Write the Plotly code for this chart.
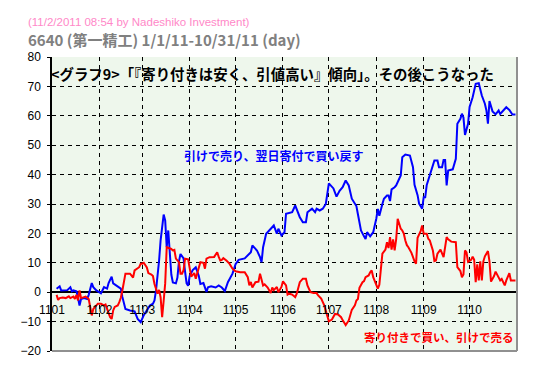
import plotly.graph_objects as go

# ---- data ----
month_ticks = ["2011-01-01", "2011-02-01", "2011-03-01", "2011-04-01", "2011-05-01",
               "2011-06-01", "2011-07-01", "2011-08-01", "2011-09-01", "2011-10-01"]
month_labels = ["1101", "1102", "1103", "1104", "1105", "1106", "1107", "1108", "1109", "1110"]
y_ticks = [-20, -10, 0, 10, 20, 30, 40, 50, 60, 70, 80]

blue_md = ["01-04","01-06","01-07","01-09","01-11","01-13","01-14","01-15","01-17","01-18",
           "01-19","01-20","01-22","01-24","01-25","01-27","01-28","01-30","02-02","02-04",
           "02-06","02-07","02-09","02-10","02-13","02-15","02-16","02-18","02-21","02-24",
           "02-26","02-28","03-02","03-04","03-06","03-08","03-09","03-10","03-11","03-12",
           "03-13","03-14","03-15","03-16","03-17","03-18","03-19","03-20","03-21","03-23",
           "03-24","03-25","03-26","03-28","03-29","03-30","03-31","04-01","04-03","04-05",
           "04-07","04-08","04-10","04-12","04-13","04-15","04-18","04-20","04-22","04-24",
           "04-26","04-29","05-01","05-03","05-07","05-11","05-12","05-15","05-17","05-18",
           "05-19","05-21","05-23","05-26","05-28","05-29","05-31","06-02","06-03","06-07",
           "06-09","06-10","06-12","06-14","06-16","06-17","06-20","06-22","06-23","06-25",
           "06-27","06-29","07-01","07-04","07-06","07-08","07-10","07-12","07-14","07-16",
           "07-19","07-20","07-22","07-24","07-25","07-26","07-28","07-30","07-31","08-01",
           "08-02","08-03","08-05","08-06","08-08","08-09","08-10","08-11","08-13","08-14",
           "08-16","08-17","08-18","08-20","08-23","08-24","08-25","08-26","08-28","08-29",
           "08-31","09-01","09-02","09-03","09-05","09-07","09-08","09-10","09-11","09-13",
           "09-14","09-15","09-16","09-17","09-20","09-22","09-23","09-25","09-26","09-27",
           "09-28","09-30","10-01","10-03","10-05","10-07","10-09","10-11","10-12","10-13",
           "10-14","10-16","10-18","10-20","10-21","10-25","10-27","10-29","10-31"]
blue_values = [1.2, 2.0, 0.6, 0.7, 0.7, 1.7, 0.3, 0.6, 0.3, -1.9,
               -4.5, -2.3, -2.0, -2.3, -0.9, 3.1, 1.7, 0.6, -0.4, 1.7,
               1.2, 3.1, 5.3, 3.0, 1.9, 1.2, -1.6, -5.7, -6.2, -6.5,
               -9.1, -10.2, -7.8, -6.0, -4.5, -3.9, -2.8, 0.6, 5.0, 10.7,
               17.6, 22.0, 26.4, 24.4, 15.3, 21.0, 13.0, 6.0, 3.3, 3.0,
               5.0, 10.5, 13.0, 11.5, 7.0, 3.0, 2.2, 5.5, 7.5, 8.5,
               5.5, 2.8, 3.1, 0.1, 1.7, 2.0, 1.6, 2.3, 1.6, 0.4,
               3.4, 6.3, 9.5, 11.0, 11.5, 13.6, 15.9, 14.2, 11.9, 10.2,
               15.3, 19.9, 21.0, 22.7, 19.9, 21.6, 19.3, 20.4, 26.7, 27.2,
               29.5, 27.9, 25.5, 23.8, 23.8, 27.2, 28.4, 27.2, 28.4, 27.8,
               28.4, 30.0, 37.0, 35.3, 32.5, 34.5, 35.7, 38.0, 36.3, 31.8,
               29.3, 26.5, 21.0, 19.0, 18.1, 20.4, 19.0, 20.4, 22.5, 25.0,
               28.3, 26.0, 30.0, 31.8, 32.9, 32.9, 31.0, 35.0, 35.7, 36.3,
               38.6, 39.7, 45.9, 46.8, 46.5, 44.8, 42.5, 36.5, 33.0, 30.1,
               28.4, 32.3, 32.3, 36.5, 39.7, 42.5, 44.8, 44.8, 42.5, 42.5,
               45.0, 45.0, 36.3, 41.4, 41.8, 45.4, 57.3, 59.0, 60.7, 59.4,
               53.5, 57.3, 63.0, 66.3, 70.9, 71.1, 66.9, 64.1, 61.8, 57.3,
               65.0, 61.5, 60.5, 61.8, 60.6, 62.9, 62.0, 60.4, 60.4]

red_md = ["01-04","01-05","01-06","01-08","01-10","01-12","01-13","01-15","01-16","01-17",
          "01-18","01-19","01-20","01-22","01-23","01-25","01-26","01-27","01-28","01-30",
          "01-31","02-02","02-04","02-05","02-07","02-08","02-09","02-10","02-11","02-13",
          "02-14","02-15","02-16","02-17","02-18","02-21","02-23","02-24","02-27","02-28",
          "03-01","03-02","03-04","03-05","03-06","03-07","03-08","03-09","03-11","03-12",
          "03-13","03-14","03-15","03-16","03-17","03-18","03-19","03-20","03-21","03-22",
          "03-23","03-25","03-26","03-27","03-28","03-29","03-31","04-01","04-02","04-04",
          "04-05","04-06","04-08","04-10","04-11","04-12","04-14","04-17","04-19","04-20",
          "04-21","04-22","04-23","04-25","04-27","04-29","05-01","05-04","05-07","05-09",
          "05-10","05-11","05-12","05-14","05-16","05-17","05-18","05-19","05-20","05-22",
          "05-24","05-25","05-26","05-28","05-29","05-31","06-01","06-03","06-04","06-05",
          "06-07","06-09","06-10","06-12","06-14","06-16","06-17","06-19","06-21","06-23",
          "06-24","06-26","06-28","06-30","07-01","07-03","07-05","07-07","07-09","07-10",
          "07-12","07-14","07-16","07-18","07-19","07-20","07-21","07-23","07-24","07-25",
          "07-27","07-28","07-29","07-30","08-01","08-02","08-03","08-04","08-05","08-07",
          "08-08","08-09","08-10","08-11","08-12","08-13","08-14","08-15","08-16","08-17",
          "08-18","08-19","08-20","08-21","08-22","08-24","08-26","08-27","08-28","08-29",
          "08-30","08-31","09-01","09-03","09-04","09-05","09-06","09-07","09-08","09-09",
          "09-10","09-12","09-14","09-16","09-17","09-19","09-22","09-23","09-25","09-26",
          "09-27","09-28","09-29","09-30","10-02","10-03","10-04","10-05","10-06","10-07",
          "10-08","10-09","10-10","10-11","10-13","10-14","10-15","10-17","10-18","10-20",
          "10-21","10-22","10-24","10-25","10-27","10-28","10-31"]
red_values = [-0.9, -2.6, -2.0, -1.8, -2.0, -1.4, -2.0, -1.5, -2.3, -0.9,
              -2.8, 0.6, -2.0, -1.8, -1.5, -2.3, -5.7, -7.9, -5.7, -4.5,
              -3.9, -3.9, -4.5, -4.2, -7.4, -8.5, -9.1, -6.2, -5.0, -4.5,
              -3.4, -1.9, 0.6, 4.0, 6.3, 6.3, 5.0, 7.4, 8.5, 9.7,
              9.7, 10.0, 8.4, 6.5, 6.3, 6.0, 5.5, 2.8, -0.5, 0.8,
              -1.7, -8.5, -3.0, 3.0, 15.3, 15.1, 15.0, 14.7, 14.2, 14.4,
              11.4, 10.2, 6.3, 6.3, 7.5, 11.4, 11.2, 7.4, 5.3, 6.5,
              4.6, 6.5, 10.2, 10.0, 8.0, 11.4, 11.9, 12.0, 13.6, 12.0,
              10.8, 11.0, 11.6, 10.8, 9.7, 8.0, 7.1, 6.8, 6.8, 5.1,
              2.3, 3.5, 1.6, 3.4, 3.6, 6.3, 4.0, 2.3, 2.7, 1.6,
              -0.3, 1.6, 0.7, 1.8, 0.0, 1.8, 3.7, 2.3, -0.8, -0.5,
              -0.8, -1.7, -0.5, 3.4, 4.6, 4.6, 2.3, 0.0, -0.3, -0.3,
              -1.1, -2.2, -4.5, -8.0, -9.9, -9.3, -7.4, -7.6, -8.5, -9.5,
              -11.2, -9.6, -6.0, -4.5, -2.8, -2.3, 1.5, 3.4, 3.8, 5.1,
              5.7, 6.8, 7.4, 5.1, 2.8, 1.2, 2.5, 8.5, 13.1, 14.5,
              17.0, 15.0, 18.7, 14.5, 18.0, 14.2, 18.0, 25.0, 23.3, 21.6,
              21.0, 19.9, 17.6, 16.0, 15.3, 13.4, 10.5, 9.7, 18.5, 19.5,
              20.8, 22.7, 19.9, 19.9, 18.2, 17.6, 15.9, 14.2, 10.6, 10.8,
              13.1, 14.5, 11.9, 18.7, 18.0, 17.2, 17.0, 8.5, 7.2, 5.1,
              6.0, 14.2, 13.5, 10.3, 11.0, 12.1, 11.0, 3.4, 9.5, 4.0,
              10.5, 4.0, 10.5, 12.2, 14.0, 10.5, 3.6, 5.5, 7.0, 4.8,
              4.0, 4.5, 2.3, 4.0, 6.5, 4.0, 4.0]

blue_dates = ["2011-" + d for d in blue_md]
red_dates = ["2011-" + d for d in red_md]

blue_name = "引けで売り、翌日寄付で買い戻す"
red_name = "寄り付きで買い、引けで売る"
main_title = "<グラフ9>「『寄り付きは安く、引値高い』傾向」。その後こうなった"
sub_title = "6640 (第一精工) 1/1/11-10/31/11 (day)"
stamp = "(11/2/2011 08:54 by Nadeshiko Investment)"

fig = go.Figure()
fig.add_trace(go.Scatter(x=blue_dates, y=blue_values, mode="lines", name=blue_name,
                         line=dict(color="#0000ff", width=2)))
fig.add_trace(go.Scatter(x=red_dates, y=red_values, mode="lines", name=red_name,
                         line=dict(color="#ff0000", width=2)))

jp = "Noto Sans CJK JP"
# the page body adds an 8px offset, so the figure is 8px smaller than the window
fig.update_layout(
    width=538, height=370,
    margin=dict(l=42, r=29, t=49, b=27),
    paper_bgcolor="white",
    plot_bgcolor="#eef7ec",
    showlegend=False,
    font=dict(family="Liberation Sans", size=12, color="black"),
    xaxis=dict(
        type="date", range=["2011-01-01", "2011-11-01"],
        tickvals=month_ticks, ticktext=month_labels,
        showgrid=True, gridcolor="black", gridwidth=1, griddash="4px,4px",
        anchor="free", position=0.2, showline=False, ticks="",
        ticklabelstandoff=9, tickfont=dict(size=12, color="black", family="Liberation Sans"),
        zeroline=False,
    ),
    yaxis=dict(
        range=[-20, 80], tickvals=y_ticks,
        showgrid=True, gridcolor="black", gridwidth=1, griddash="4px,4px",
        zeroline=True, zerolinecolor="black", zerolinewidth=1.5,
        showline=True, linecolor="black", linewidth=1.5,
        ticks="outside", ticklen=3, tickcolor="black", ticklabelstandoff=4,
        tickfont=dict(size=12, color="black", family="Liberation Sans"),
    ),
    shapes=[
        dict(type="line", xref="paper", yref="paper", x0=1, x1=1, y0=0, y1=1,
             line=dict(color="#909090", width=2)),
        dict(type="line", xref="paper", yref="paper", x0=0, x1=1, y0=0, y1=0,
             line=dict(color="#909090", width=2)),
    ],
    annotations=[
        dict(text=stamp, xref="paper", yref="paper", x=-0.055, y=1.118,
             xanchor="left", yanchor="middle", showarrow=False,
             font=dict(family="Liberation Sans", size=11.5, color="#ff88c8")),
        dict(text="<b>" + sub_title + "</b>", xref="paper", yref="paper", x=-0.055, y=1.059,
             xanchor="left", yanchor="middle", showarrow=False,
             font=dict(family=jp, size=15, color="#808080")),
        dict(text="<b>" + main_title + "</b>", xref="paper", yref="y", x=-0.006, y=74.4,
             xanchor="left", yanchor="middle", showarrow=False,
             font=dict(family=jp, size=14.4, color="black")),
        dict(text="<b>" + blue_name + "</b>", xref="x", yref="y", x="2011-05-26", y=46.5,
             xanchor="center", yanchor="middle", showarrow=False,
             font=dict(family=jp, size=12, color="#0000ff")),
        dict(text="<b>" + red_name + "</b>", xref="paper", yref="y", x=0.998, y=-15.1,
             xanchor="right", yanchor="middle", showarrow=False,
             font=dict(family=jp, size=11.5, color="#ff0000")),
    ],
)

fig.write_html("out.html")
